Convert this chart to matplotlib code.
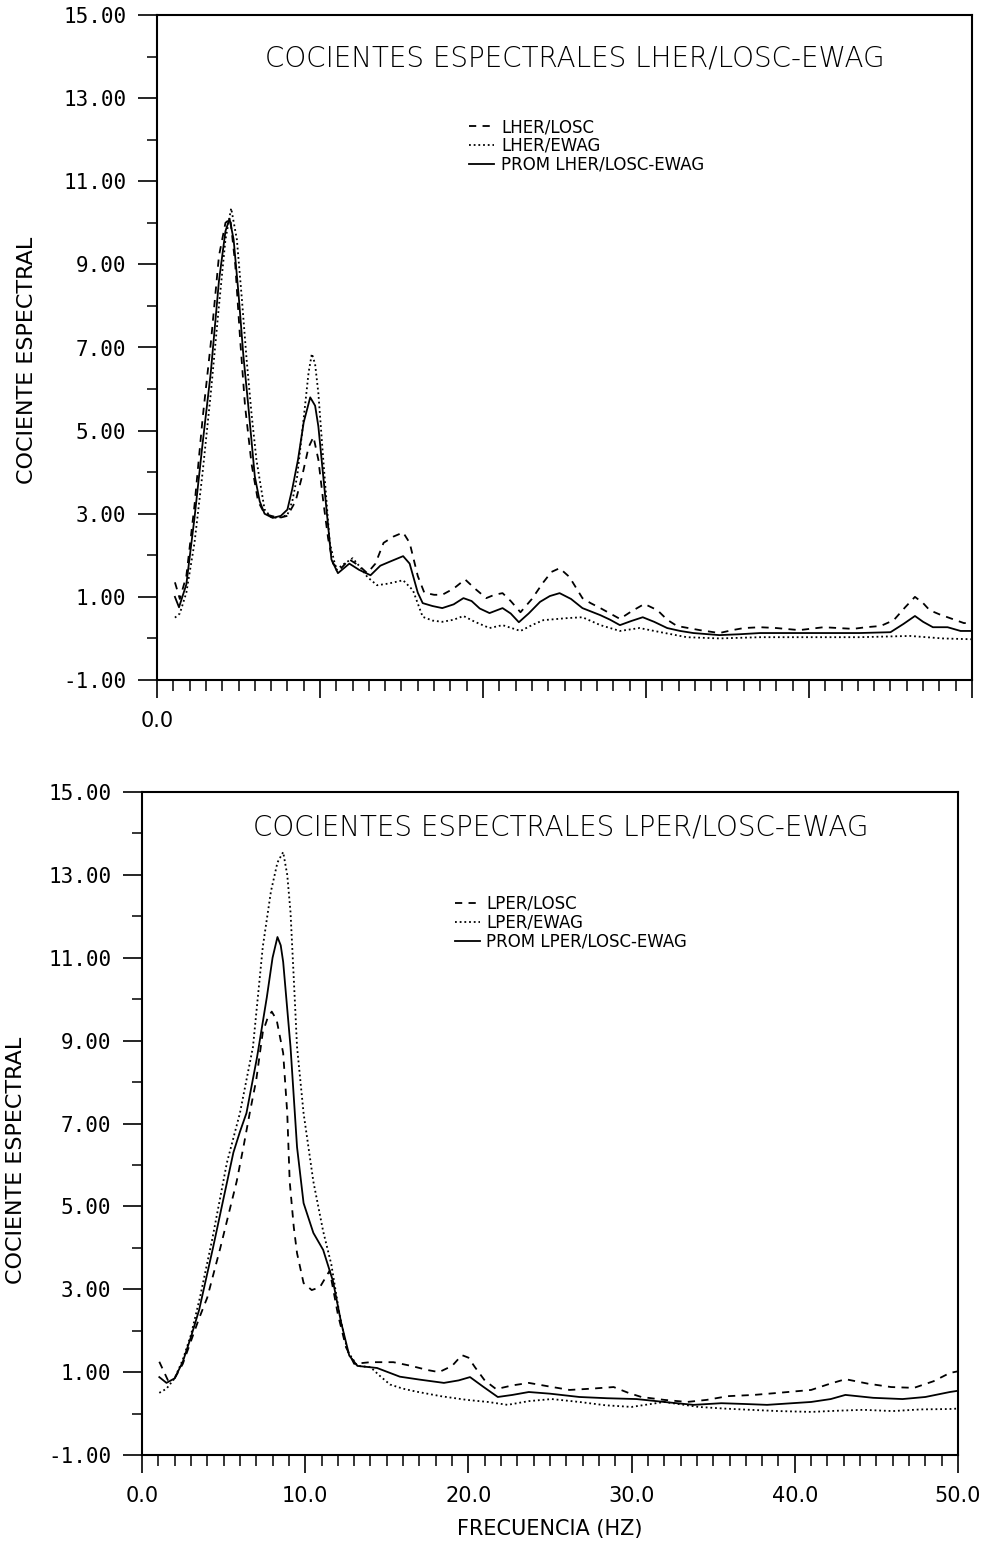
import matplotlib
matplotlib.use("Agg")
import matplotlib.pyplot as plt

# ---------------- panel 1: LHER ----------------
her_losc_f = [1.1, 1.4, 1.8, 2.3, 2.8, 3.3, 3.8, 4.2, 4.5, 4.8, 5.1, 5.4, 5.8, 6.2, 6.6, 7.0,
              7.5, 8.0, 8.5, 8.9, 9.3, 9.6, 9.9, 10.2, 10.5, 10.8, 11.2, 11.8, 12.4, 12.9, 13.4,
              13.9, 14.5, 15.1, 15.5, 16.0, 16.4, 17.0, 17.5, 18.2, 18.9, 19.5, 20.2, 20.7, 21.2,
              21.7, 22.3, 23.0, 23.7, 24.2, 24.7, 25.3, 26.1, 26.6, 27.2, 27.8, 28.4, 29.1, 29.9,
              30.7, 31.3, 31.9, 32.6, 33.3, 34.5, 35.3, 36.0, 37.0, 38.0, 39.4, 40.9, 41.8, 42.7,
              43.5, 44.4, 45.2, 45.9, 46.5, 47.0, 47.4, 48.0, 48.5, 49.5, 50.0]
her_losc = [1.35, 0.95, 1.5, 3.2, 5.3, 7.1, 9.2, 10.0, 10.1, 9.0, 7.2, 5.6, 4.2, 3.3, 3.0, 2.95,
            2.9, 2.95, 3.3, 3.9, 4.6, 4.85, 4.3, 3.3, 2.4, 1.8, 1.65, 1.9, 1.75, 1.57, 1.8,
            2.3, 2.45, 2.55, 2.3, 1.5, 1.1, 1.05, 1.05, 1.2, 1.42, 1.2, 0.97, 1.05, 1.09,
            0.9, 0.63, 0.95, 1.35, 1.6, 1.69, 1.48, 0.97, 0.85, 0.73, 0.6, 0.47, 0.65, 0.83,
            0.68, 0.45, 0.30, 0.25, 0.20, 0.13, 0.2, 0.25, 0.27, 0.25, 0.20, 0.27, 0.25, 0.23,
            0.27, 0.30, 0.44, 0.75, 1.0, 0.85, 0.68, 0.58, 0.51, 0.37, 0.37]

her_ewag_f = [1.1, 1.4, 1.8, 2.3, 2.8, 3.3, 3.8, 4.2, 4.55, 4.9, 5.2, 5.5, 5.8, 6.1, 6.6, 7.0,
              7.4, 8.0, 8.3, 8.6, 9.0, 9.3, 9.5, 9.7, 9.9, 10.2, 10.6, 11.0, 11.5, 12.0, 12.5,
              12.9, 13.5, 14.2, 15.1, 15.7, 16.3, 16.9, 17.5, 18.2, 18.8, 19.5, 20.4, 21.2, 22.3,
              23.0, 23.7, 25.2, 26.1, 27.2, 28.4, 29.6, 30.9, 32.5, 34.5, 37.0, 40.1, 43.1, 46.2,
              48.2, 50.0]
her_ewag = [0.5, 0.6, 1.1, 2.3, 4.0, 5.9, 8.0, 9.6, 10.35, 9.6, 8.2, 6.7, 5.4, 4.3, 3.1, 2.92,
            2.9, 2.97, 3.3, 3.9, 5.3, 6.4, 6.85, 6.6, 5.9, 4.3, 2.3, 1.65, 1.8, 1.93, 1.7,
            1.48, 1.28, 1.32, 1.4, 1.16, 0.52, 0.43, 0.4, 0.45, 0.54, 0.4, 0.25, 0.32, 0.18,
            0.32, 0.44, 0.49, 0.51, 0.32, 0.18, 0.25, 0.15, 0.03, 0.0, 0.03, 0.03, 0.03, 0.06,
            0.0, -0.02]

her_prom_f = [1.1, 1.35, 1.8, 2.3, 2.8, 3.3, 3.8, 4.2, 4.45, 4.7, 5.0, 5.3, 5.6, 6.0, 6.3, 6.6,
              7.1, 7.6, 8.0, 8.3, 8.65, 9.0, 9.4, 9.7, 9.9, 10.3, 10.7, 11.1, 11.8, 12.4, 13.1,
              13.7, 14.3, 15.1, 15.5, 16.0, 16.3, 16.9, 17.5, 18.2, 18.8, 19.3, 19.8, 20.4, 21.2,
              21.7, 22.2, 22.8, 23.5, 24.1, 24.7, 25.4, 26.1, 27.2, 27.8, 28.4, 29.1, 29.8, 30.5,
              31.3, 32.1, 32.9, 34.5, 35.7, 37.0, 39.0, 41.1, 43.1, 45.0, 45.8, 46.5, 47.0, 47.6,
              48.5, 49.3, 50.0]
her_prom = [1.0, 0.75, 1.3, 2.9, 4.7, 6.4, 8.6, 9.8, 10.1, 9.6, 8.3, 6.8, 5.6, 3.9, 3.3, 3.0,
            2.9, 2.95, 3.1, 3.6, 4.3, 5.2, 5.8, 5.6, 5.1, 3.5, 1.9, 1.57, 1.8, 1.65, 1.52,
            1.75, 1.85, 1.98, 1.8, 1.1, 0.85, 0.78, 0.73, 0.82, 0.97, 0.9, 0.72, 0.61, 0.73,
            0.6, 0.39, 0.6, 0.88, 1.02, 1.09, 0.95, 0.73, 0.56, 0.45, 0.32, 0.42, 0.51, 0.4,
            0.25, 0.18, 0.13, 0.08, 0.1, 0.13, 0.13, 0.13, 0.13, 0.15, 0.35, 0.54, 0.4, 0.27,
            0.27, 0.18, 0.18]

# ---------------- panel 2: LPER ----------------
per_losc_f = [1.06, 1.58, 2.0, 2.5, 3.0, 3.5, 4.0, 4.8, 5.3, 5.8, 6.2, 6.6, 7.0, 7.4, 7.7, 7.95,
              8.25, 8.65, 8.9, 9.05, 9.3, 9.5, 9.9, 10.4, 10.9, 11.5, 12.0, 12.5, 13.0, 14.0,
              15.4, 16.5, 17.5, 18.2, 19.0, 19.6, 20.0, 20.4, 21.0, 21.7, 22.7, 23.7, 25.0, 26.2,
              27.5, 28.9, 29.8, 30.6, 32.0, 33.4, 34.6, 35.9, 37.5, 39.0, 41.0, 42.0, 43.1, 44.5,
              45.9, 47.3, 48.5, 49.5, 50.0]
per_losc = [1.25, 0.81, 0.85, 1.2, 1.75, 2.3, 2.8, 4.0, 4.8, 5.6, 6.4, 7.25, 8.05, 9.2, 9.55, 9.7,
            9.5, 8.7, 7.25, 5.6, 4.5, 3.87, 3.15, 2.98, 3.05, 3.45, 2.4, 1.6, 1.2, 1.24,
            1.24, 1.15, 1.05, 1.0, 1.15, 1.41, 1.35, 1.12, 0.8, 0.59, 0.68, 0.74, 0.65, 0.57,
            0.6, 0.64, 0.5, 0.40, 0.33, 0.28, 0.33, 0.42, 0.45, 0.50, 0.57, 0.7, 0.83, 0.72,
            0.64, 0.62, 0.78, 0.98, 1.02]

per_ewag_f = [1.06, 1.5, 2.0, 2.5, 3.0, 3.55, 4.3, 5.2, 6.0, 6.8, 7.4, 7.9, 8.3, 8.65, 8.9, 9.1,
              9.3, 9.5, 9.9, 10.5, 11.1, 11.6, 12.1, 12.6, 13.2, 14.0, 14.6, 15.2, 16.0, 16.8,
              18.3, 19.9, 21.2, 22.4, 23.7, 25.1, 26.8, 28.4, 30.0, 32.0, 34.1, 35.7, 37.3, 39.0,
              41.0, 42.7, 44.2, 46.0, 47.7, 49.5, 50.0]
per_ewag = [0.5, 0.6, 0.85, 1.3, 1.9, 2.8, 4.2, 6.05, 7.25, 8.85, 11.26, 12.6, 13.3, 13.55, 13.0, 12.1,
            10.5, 8.85, 7.25, 5.6, 4.4, 3.6, 2.4, 1.5, 1.15, 1.12, 0.9, 0.7, 0.6, 0.53,
            0.42, 0.33, 0.28, 0.21, 0.3, 0.35, 0.28, 0.2, 0.16, 0.28, 0.16, 0.12, 0.09, 0.06,
            0.04, 0.07, 0.09, 0.06, 0.1, 0.11, 0.12]

per_prom_f = [1.06, 1.5, 2.0, 2.5, 3.0, 3.5, 4.35, 5.0, 5.6, 6.0, 6.4, 7.05, 7.65, 8.0, 8.3, 8.5,
              8.65, 9.1, 9.5, 9.9, 10.5, 11.1, 11.7, 12.2, 12.7, 13.2, 14.4, 15.8, 17.0, 18.5,
              19.4, 20.1, 20.9, 21.8, 22.7, 23.7, 25.0, 26.8, 28.5, 30.3, 32.0, 33.8, 35.5, 37.0,
              38.3, 41.0, 42.2, 43.1, 44.8, 46.6, 48.0, 49.5, 50.0]
per_prom = [0.88, 0.74, 0.85, 1.25, 1.85, 2.5, 4.0, 5.2, 6.3, 6.8, 7.25, 8.6, 10.05, 11.0, 11.5, 11.3,
            10.9, 8.85, 6.43, 5.08, 4.36, 3.95, 3.2, 2.2, 1.4, 1.15, 1.10, 0.89, 0.82, 0.74,
            0.8, 0.88, 0.65, 0.40, 0.45, 0.52, 0.48, 0.40, 0.37, 0.35, 0.28, 0.21, 0.25, 0.23,
            0.21, 0.28, 0.35, 0.45, 0.38, 0.35, 0.4, 0.52, 0.55]

ytick_vals = [-1, 1, 3, 5, 7, 9, 11, 13, 15]
ytick_labels = ["-1.00", "1.00", "3.00", "5.00", "7.00", "9.00", "11.00", "13.00", "15.00"]
xtick_vals = [0, 10, 20, 30, 40, 50]
xtick_labels_top = ["0.0", "", "", "", "", ""]
xtick_labels_bot = ["0.0", "10.0", "20.0", "30.0", "40.0", "50.0"]


def panel(ax, title, series, names, xlabels, title_y, ylab_pos):
    styles = [(0, (4, 3.5)), (0, (1, 1.6)), "-"]
    for (f, v), name, ls in zip(series, names, styles):
        ax.plot(f, v, color="black", lw=1.3, linestyle=ls, label=name)

    ax.set_xlim(0, 50)
    ax.set_ylim(-1, 15)
    ax.set_xticks(xtick_vals, xlabels)
    ax.set_xticks(range(0, 51), minor=True)
    ax.set_yticks(ytick_vals, ytick_labels)
    ax.set_yticks(range(0, 15, 2), minor=True)
    ax.tick_params(axis="both", which="major", direction="out", width=1.2, color="black")
    ax.tick_params(axis="x", which="major", length=13, pad=9, labelsize=15)
    ax.tick_params(axis="x", which="minor", length=8, width=1.1)
    ax.tick_params(axis="y", which="major", length=14, pad=8, labelsize=15)
    ax.tick_params(axis="y", which="minor", length=7, width=1.1)
    for lab in ax.get_yticklabels():
        lab.set_family("DejaVu Sans Mono")
    for sp in ax.spines.values():
        sp.set_linewidth(1.5)

    ax.text(0.513, title_y, title, transform=ax.transAxes, ha="center", va="center",
            fontsize=20, fontweight="light")
    ax.set_ylabel("COCIENTE ESPECTRAL", fontsize=16)
    ax.yaxis.set_label_coords(*ylab_pos)

    h, l = ax.get_legend_handles_labels()
    ax.legend(h, l, loc="upper left", bbox_to_anchor=(0.375, 0.855), frameon=False,
              fontsize=12, handlelength=1.5, handletextpad=0.4, labelspacing=0.05,
              borderaxespad=0)


fig = plt.figure(figsize=(9.92, 15.46), dpi=100)
ax1 = fig.add_axes([157 / 992, 1 - 680 / 1546, 815 / 992, 665 / 1546])
ax2 = fig.add_axes([142 / 992, 1 - 1455 / 1546, 816 / 992, 663 / 1546])

panel(ax1, "COCIENTES ESPECTRALES LHER/LOSC-EWAG",
      [(her_losc_f, her_losc), (her_ewag_f, her_ewag), (her_prom_f, her_prom)],
      ["LHER/LOSC", "LHER/EWAG", "PROM LHER/LOSC-EWAG"],
      xtick_labels_top, 0.935, (-0.147, 0.48))
panel(ax2, "COCIENTES ESPECTRALES LPER/LOSC-EWAG",
      [(per_losc_f, per_losc), (per_ewag_f, per_ewag), (per_prom_f, per_prom)],
      ["LPER/LOSC", "LPER/EWAG", "PROM LPER/LOSC-EWAG"],
      xtick_labels_bot, 0.946, (-0.142, 0.445))
ax2.set_xlabel("FRECUENCIA (HZ)", fontsize=15, labelpad=10)

fig.savefig("out.png", dpi=100)
